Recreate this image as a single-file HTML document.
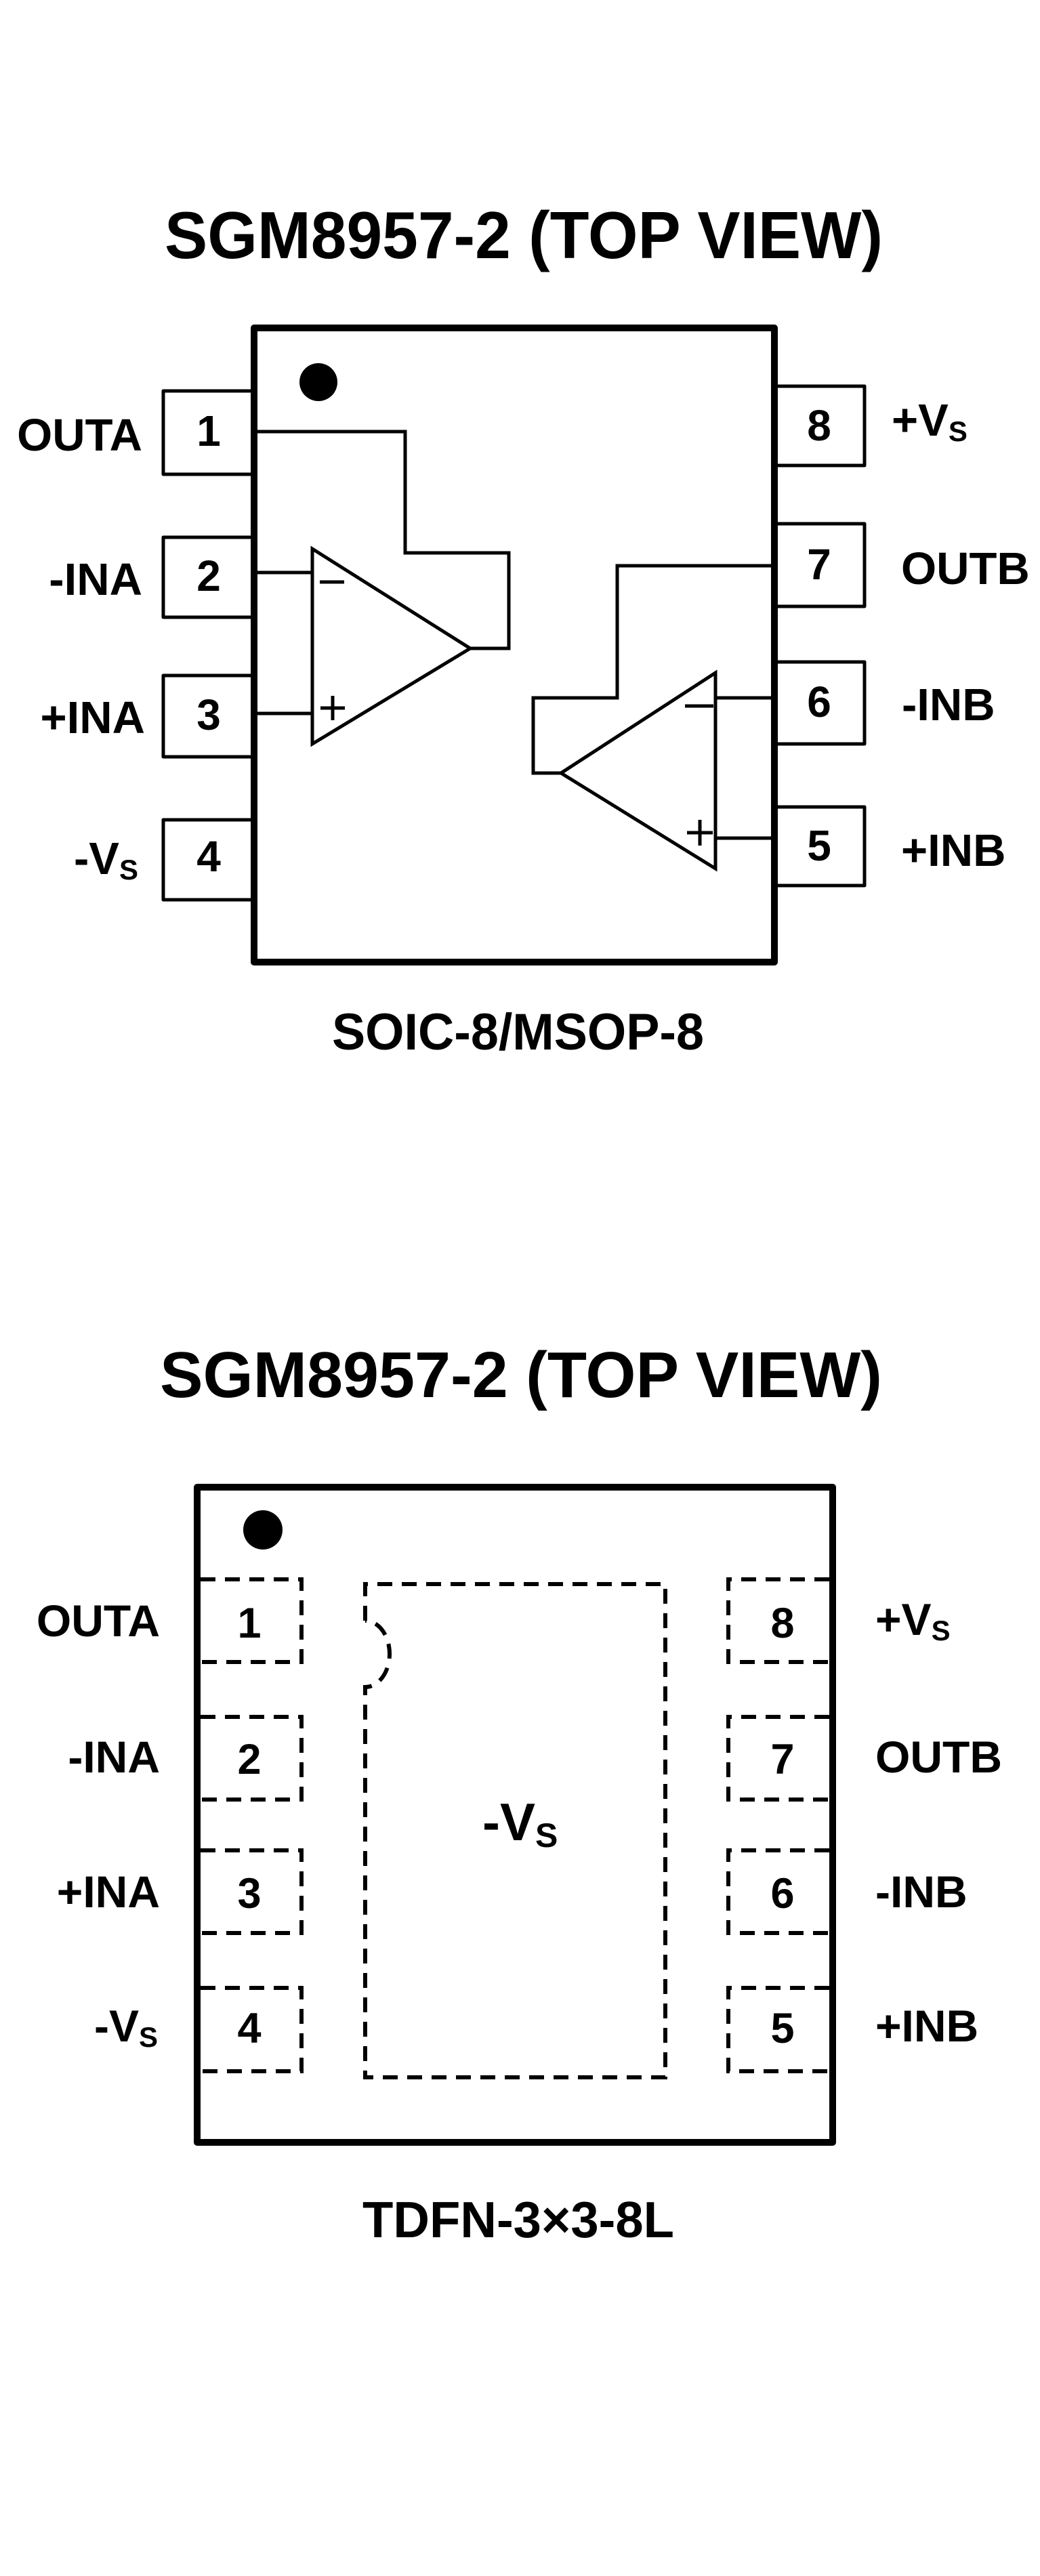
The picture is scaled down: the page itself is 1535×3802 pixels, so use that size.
<!DOCTYPE html>
<html><head><meta charset="utf-8"><style>
html,body{margin:0;padding:0;background:#fff;}
svg{display:block;}
text{font-family:"Liberation Sans",Arial,sans-serif;font-weight:bold;fill:#000;}
</style></head><body>
<svg width="1535" height="3802" viewBox="0 0 1535 3802" xmlns="http://www.w3.org/2000/svg">
<rect width="1535" height="3802" fill="#fff"/>
<!-- ===== TOP DIAGRAM ===== -->
<text x="243" y="381" font-size="98" textLength="1060" lengthAdjust="spacingAndGlyphs">SGM8957-2 (TOP VIEW)</text>
<g fill="none" stroke="#000" stroke-width="5" stroke-linejoin="round">
<rect x="241" y="577" width="134" height="123"/>
<rect x="241" y="793" width="134" height="118"/>
<rect x="241" y="997" width="134" height="120"/>
<rect x="241" y="1210" width="134" height="118"/>
<rect x="1143" y="570" width="133" height="117"/>
<rect x="1143" y="773" width="133" height="122"/>
<rect x="1143" y="977" width="133" height="121"/>
<rect x="1143" y="1191" width="133" height="116"/>
</g>
<rect x="375" y="484" width="768" height="936" fill="#fff" stroke="#000" stroke-width="10" stroke-linejoin="round"/>
<circle cx="470" cy="564" r="28" fill="#000"/>
<g fill="none" stroke="#000" stroke-width="5">
<polyline points="375,637 598,637 598,816 751,816 751,957 694,957"/>
<polygon points="461,810 461,1098 694,957"/>
<line x1="375" y1="845" x2="461" y2="845"/>
<line x1="375" y1="1053" x2="461" y2="1053"/>
<line x1="472" y1="859" x2="508" y2="859"/>
<line x1="473" y1="1045" x2="509" y2="1045"/>
<line x1="491" y1="1027" x2="491" y2="1063"/>
<polyline points="1143,835 911,835 911,1030 787,1030 787,1141 828,1141"/>
<polygon points="1056,993 1056,1282 828,1141"/>
<line x1="1056" y1="1030" x2="1143" y2="1030"/>
<line x1="1056" y1="1237" x2="1143" y2="1237"/>
<line x1="1011" y1="1042" x2="1053" y2="1042"/>
<line x1="1014" y1="1229" x2="1052" y2="1229"/>
<line x1="1033" y1="1210" x2="1033" y2="1248"/>
</g>
<g font-size="64" text-anchor="middle">
<text x="308" y="658">1</text>
<text x="308" y="872">2</text>
<text x="308" y="1077">3</text>
<text x="308" y="1286">4</text>
<text x="1209" y="650">8</text>
<text x="1209" y="855">7</text>
<text x="1209" y="1058">6</text>
<text x="1209" y="1270">5</text>
</g>
<g font-size="67" text-anchor="end">
<text x="210" y="665">OUTA</text>
<text x="210" y="878">-INA</text>
<text x="214" y="1082">+INA</text>
<text x="204" y="1290">-V<tspan font-size="42" dy="8">S</tspan></text>
</g>
<g font-size="67">
<text x="1316" y="643">+V<tspan font-size="42" dy="8">S</tspan></text>
<text x="1330" y="862">OUTB</text>
<text x="1331" y="1063">-INB</text>
<text x="1330" y="1278">+INB</text>
</g>
<text x="490" y="1549" font-size="76" textLength="549" lengthAdjust="spacingAndGlyphs">SOIC-8/MSOP-8</text>

<!-- ===== BOTTOM DIAGRAM ===== -->
<text x="236" y="2062" font-size="96" textLength="1066" lengthAdjust="spacingAndGlyphs">SGM8957-2 (TOP VIEW)</text>
<rect x="291" y="2195" width="938" height="967" fill="#fff" stroke="#000" stroke-width="10" stroke-linejoin="round"/>
<circle cx="388" cy="2258" r="29" fill="#000"/>
<g fill="none" stroke="#000" stroke-width="6" stroke-dasharray="22 14">
<polyline points="296,2331 445,2331 445,2453 296,2453"/>
<polyline points="296,2534 445,2534 445,2656 296,2656"/>
<polyline points="296,2731 445,2731 445,2853 296,2853"/>
<polyline points="296,2934 445,2934 445,3057 296,3057"/>
<polyline points="1224,2331 1075,2331 1075,2453 1224,2453"/>
<polyline points="1224,2534 1075,2534 1075,2656 1224,2656"/>
<polyline points="1224,2731 1075,2731 1075,2853 1224,2853"/>
<polyline points="1224,2934 1075,2934 1075,3057 1224,3057"/>
<path d="M539 2392 L539 2338 L982 2338 L982 3066 L539 3066 L539 2490 A36 49 0 0 0 539 2392"/>
</g>
<g font-size="63" text-anchor="middle">
<text x="368" y="2417">1</text>
<text x="368" y="2618">2</text>
<text x="368" y="2816">3</text>
<text x="368" y="3015">4</text>
<text x="1155" y="2417">8</text>
<text x="1155" y="2618">7</text>
<text x="1155" y="2816">6</text>
<text x="1155" y="3015">5</text>
</g>
<g font-size="66" text-anchor="end">
<text x="236" y="2415">OUTA</text>
<text x="236" y="2616">-INA</text>
<text x="236" y="2815">+INA</text>
<text x="233" y="3013">-V<tspan font-size="42" dy="8">S</tspan></text>
</g>
<g font-size="66">
<text x="1292" y="2413">+V<tspan font-size="42" dy="8">S</tspan></text>
<text x="1292" y="2616">OUTB</text>
<text x="1292" y="2815">-INB</text>
<text x="1292" y="3013">+INB</text>
</g>
<text x="712" y="2716" font-size="78">-V<tspan font-size="50" dy="10">S</tspan></text>
<text x="535" y="3302" font-size="75" textLength="460" lengthAdjust="spacingAndGlyphs">TDFN-3×3-8L</text>
</svg>
</body></html>
